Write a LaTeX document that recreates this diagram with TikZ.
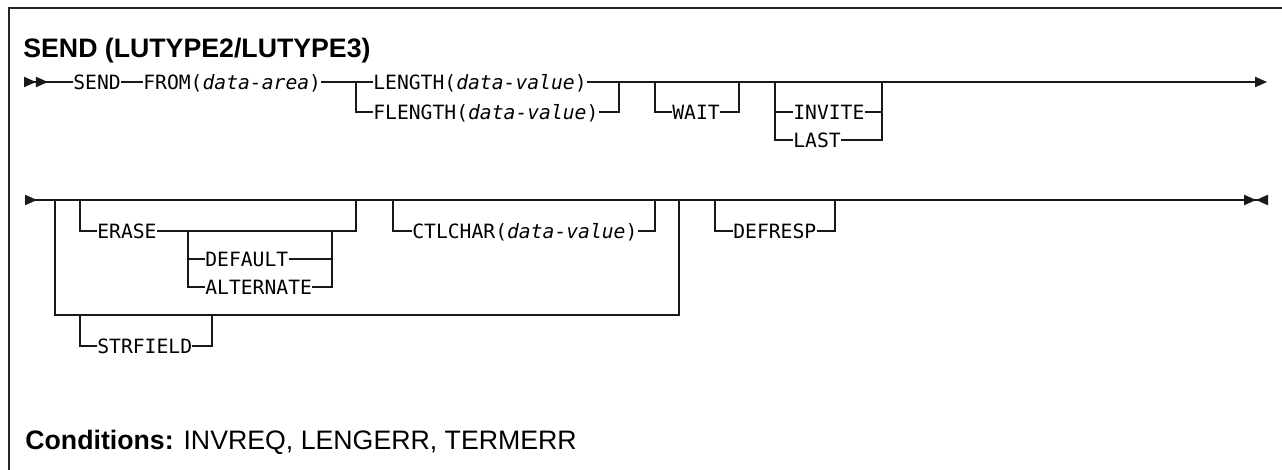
\documentclass[tikz,border=0pt]{standalone}
\usepackage{fontspec}
\usetikzlibrary{arrows.meta}
\newfontfamily\synfont{DejaVu Sans Mono}
\newfontfamily\headfont{Liberation Sans}
\tikzset{
  kw/.style={font={\synfont\fontsize{11.2pt}{13pt}\selectfont}, inner sep=0pt, anchor=west, text height=8.2pt, text depth=0pt},
  headline/.style={font={\headfont\bfseries\fontsize{15.2pt}{18pt}\selectfont}, inner sep=0pt, anchor=base west},
  condline/.style={font={\headfont\fontsize{15.2pt}{18pt}\selectfont}, inner sep=0pt, anchor=base west},
  rail/.style={line width=0.8pt, black!90},
  frame/.style={line width=1pt, black!85}
}

\begin{document}
\begin{tikzpicture}[x=0.02cm, y=-0.02cm]
  \useasboundingbox (0,0) rectangle (1282,470);
  \draw[frame] (9,470) -- (9,8) -- (1282,8);
  \node[headline] (title) at (23,57) {SEND (LUTYPE2/LUTYPE3)};

  \coordinate (r1a) at (24,82);
  \coordinate (r1e) at (1267,82);
  \node[kw] (send) at (73,82) {SEND};
  \node[kw] (from) at (143,82) {FROM(\textit{data-area})};
  \node[kw] (length) at (373,82) {LENGTH(\textit{data-value})};
  \node[kw] (flength) at (373,112) {FLENGTH(\textit{data-value})};
  \node[kw] (wait) at (672,112) {WAIT};
  \node[kw] (invite) at (793,112) {INVITE};
  \node[kw] (last) at (793,140) {LAST};
  \coordinate (lnl) at (356,82);
  \coordinate (lnr) at (619,82);
  \coordinate (wtl) at (655,82);
  \coordinate (wtr) at (739,82);
  \coordinate (ivl) at (775,82);
  \coordinate (ivr) at (882,82);
  \draw[rail, {Triangle[reversed,length=6.8pt,width=5.8pt] Triangle[reversed,length=6.8pt,width=5.8pt]}-] (r1a) -- (send.west);
  \draw[rail] (send.east) -- (from.west);
  \draw[rail] (from.east) -- (length.west);
  \draw[rail, -{Triangle[length=6.8pt,width=5.8pt]}] (length.east) -- (r1e);
  \draw[rail] (lnl) |- (flength.west);
  \draw[rail] (flength.east) -| (lnr);
  \draw[rail] (wtl) |- (wait.west);
  \draw[rail] (wait.east) -| (wtr);
  \draw[rail] (ivl) |- (last.west);
  \draw[rail] (invite.west -| ivl) -- (invite.west);
  \draw[rail] (invite.east) -- (invite.east -| ivr);
  \draw[rail] (last.east) -| (ivr);

  \coordinate (r2a) at (25,200);
  \coordinate (r2e) at (1268,200);
  \node[kw] (erase) at (97,231) {ERASE};
  \node[kw] (default) at (205,259) {DEFAULT};
  \node[kw] (alternate) at (205,287) {ALTERNATE};
  \node[kw] (ctlchar) at (412,231) {CTLCHAR(\textit{data-value})};
  \node[kw] (strfield) at (97,346) {STRFIELD};
  \node[kw] (defresp) at (733,231) {DEFRESP};
  \coordinate (lpl) at (55,200);
  \coordinate (lpr) at (679,200);
  \coordinate (erl) at (80,200);
  \coordinate (err) at (356,200);
  \coordinate (dfl) at (188,231);
  \coordinate (dfr) at (332,231);
  \coordinate (ctl) at (393,200);
  \coordinate (ctr) at (655,200);
  \coordinate (sfl) at (80,315);
  \coordinate (sfr) at (212,315);
  \coordinate (drl) at (715,200);
  \coordinate (drr) at (835,200);
  \draw[rail, {Triangle[reversed,length=6.8pt,width=5.8pt]}-{Triangle[length=6.8pt,width=5.8pt] Triangle[reversed,length=6.8pt,width=5.8pt]}] (r2a) -- (r2e);
  \draw[rail] (lpl) -- (lpl |- sfl) -| (lpr);
  \draw[rail] (erl) |- (erase.west);
  \draw[rail] (erase.east) -| (err);
  \draw[rail] (dfl) |- (alternate.west);
  \draw[rail] (default.west -| dfl) -- (default.west);
  \draw[rail] (default.east) -- (default.east -| dfr);
  \draw[rail] (alternate.east) -| (dfr);
  \draw[rail] (ctl) |- (ctlchar.west);
  \draw[rail] (ctlchar.east) -| (ctr);
  \draw[rail] (sfl) |- (strfield.west);
  \draw[rail] (strfield.east) -| (sfr);
  \draw[rail] (drl) |- (defresp.west);
  \draw[rail] (defresp.east) -| (drr);

  \node[condline] (cond) at (25,449) {\textbf{Conditions:} INVREQ, LENGERR, TERMERR};
\end{tikzpicture}
\end{document}
